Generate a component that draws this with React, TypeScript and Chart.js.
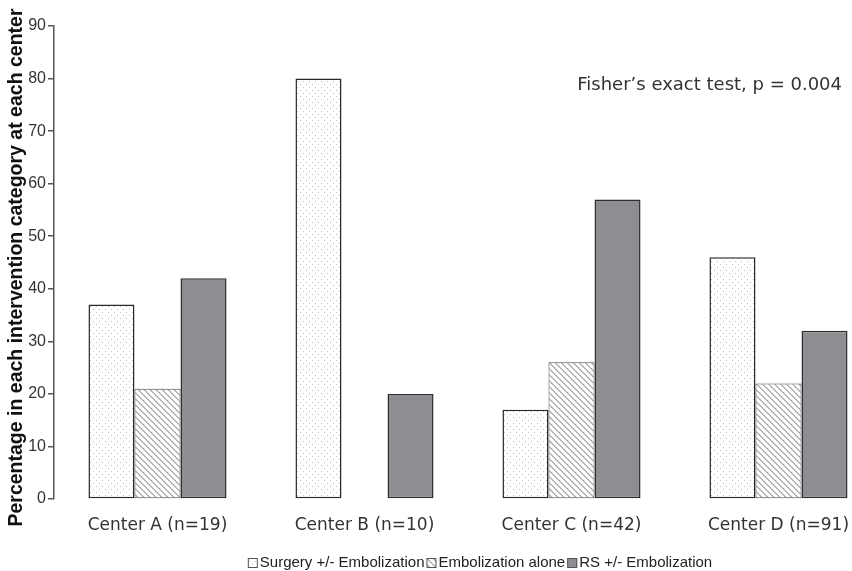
import { useEffect, useRef } from "react";
import { Chart, registerables } from "chart.js";

Chart.register(...registerables);

const categories = ["Center A (n=19)", "Center B (n=10)", "Center C (n=42)", "Center D (n=91)"];
const seriesLabels = ["Surgery +/- Embolization", "Embolization alone", "RS +/- Embolization"];
const surgeryValues = [37, 80, 17, 46];
const embolizationValues = [21, 0, 26, 22];
const rsValues = [42, 20, 57, 32];
const yMin = 0;
const yMax = 90;
const yStep = 10;
const yTitle = "Percentage in each intervention category at each center";
const annotationText = "Fisher\u2019s exact test, p = 0.004";

function makePattern(kind: "dots" | "hatch"): CanvasPattern | string {
  const size = 6;
  const c = document.createElement("canvas");
  c.width = size;
  c.height = size;
  const g = c.getContext("2d");
  if (!g) return "#ffffff";
  g.fillStyle = "#ffffff";
  g.fillRect(0, 0, size, size);
  if (kind === "dots") {
    g.fillStyle = "#bdbdbd";
    g.fillRect(0, 0, 1, 1);
    g.fillRect(3, 3, 1, 1);
  } else {
    g.fillStyle = "#b4b4b4";
    for (let y = 0; y < size; y++) {
      for (let x = 0; x < size; x++) {
        if ((x - y + size) % size < 2) g.fillRect(x, y, 1, 1);
      }
    }
  }
  const p = g.createPattern(c, "repeat");
  return p || "#ffffff";
}

const decorPlugin = {
  id: "decor",
  afterDraw(chart: any) {
    const ctx: CanvasRenderingContext2D = chart.ctx;
    const area = chart.chartArea;
    ctx.save();
    // y axis title
    ctx.fillStyle = "#111111";
    ctx.font = "bold 19.5px 'Liberation Sans', Arial, sans-serif";
    ctx.textAlign = "center";
    ctx.textBaseline = "middle";
    ctx.translate(17, (area.top + area.bottom) / 2 + 5);
    ctx.rotate(-Math.PI / 2);
    ctx.fillText(yTitle, 0, 0);
    ctx.restore();

    // annotation
    ctx.save();
    ctx.fillStyle = "#333333";
    ctx.font = "18px 'DejaVu Sans', sans-serif";
    ctx.textAlign = "right";
    ctx.textBaseline = "middle";
    ctx.fillText(annotationText, 842, area.top + 59);
    ctx.restore();

    // legend
    ctx.save();
    ctx.font = "15px 'Liberation Sans', Arial, sans-serif";
    ctx.textBaseline = "middle";
    ctx.textAlign = "left";
    const boxW = 10;
    const gapBox = 2;
    const gapItem = 2;
    const items = chart.data.datasets.map((ds: any) => ({
      label: ds.label as string,
      fill: ds.backgroundColor,
      border: ds.legendBorder as string,
      w: ctx.measureText(ds.label).width,
    }));
    let total = 0;
    items.forEach((it: any, i: number) => {
      total += boxW + gapBox + it.w + (i < items.length - 1 ? gapItem : 0);
    });
    const cy = 563;
    let x = 480 - total / 2;
    items.forEach((it: any) => {
      ctx.fillStyle = it.fill;
      ctx.fillRect(x, cy - 5, boxW, boxW);
      ctx.strokeStyle = it.border;
      ctx.lineWidth = 1;
      ctx.strokeRect(x + 0.5, cy - 4.5, boxW - 1, boxW - 1);
      x += boxW + gapBox;
      ctx.fillStyle = "#222222";
      ctx.fillText(it.label, x, cy);
      x += it.w + gapItem;
    });
    ctx.restore();
  },
};

export default function App() {
  const ref = useRef<HTMLCanvasElement | null>(null);

  useEffect(() => {
    document.body.style.margin = "0";
    const canvas = ref.current;
    if (!canvas) return;
    const dots = makePattern("dots");
    const hatch = makePattern("hatch");
    const zeroAware = (w: number) => (c: any) => (c.raw === 0 ? 0 : w);
    const chart = new Chart(canvas, {
      type: "bar",
      data: {
        labels: categories,
        datasets: [
          {
            label: seriesLabels[0],
            data: surgeryValues,
            backgroundColor: dots as any,
            borderColor: "#2a2a2a",
            borderWidth: zeroAware(1.5) as any,
            borderSkipped: false,
            legendBorder: "#555555",
          } as any,
          {
            label: seriesLabels[1],
            data: embolizationValues,
            backgroundColor: hatch as any,
            borderColor: "#4a4a4a",
            borderWidth: zeroAware(1) as any,
            borderSkipped: false,
            legendBorder: "#555555",
          } as any,
          {
            label: seriesLabels[2],
            data: rsValues,
            backgroundColor: "#8e8e92",
            borderColor: "#2e2e2e",
            borderWidth: zeroAware(1.5) as any,
            borderSkipped: false,
            legendBorder: "#555555",
          } as any,
        ],
      },
      options: {
        responsive: false,
        animation: false,
        devicePixelRatio: 1,
        layout: { padding: { top: 26, right: 0, left: 0, bottom: 0 } },
        datasets: {
          bar: { categoryPercentage: 0.667, barPercentage: 1.0 },
        },
        plugins: {
          legend: { display: false },
          tooltip: { enabled: false },
          title: { display: false },
        },
        scales: {
          x: {
            grid: { display: false, drawTicks: false },
            border: { display: false },
            ticks: {
              color: "#333333",
              font: { family: "'DejaVu Sans', sans-serif", size: 17 },
              padding: 16,
              maxRotation: 0,
              autoSkip: false,
            },
            afterFit: (s: any) => {
              s.height = 72;
            },
          },
          y: {
            min: yMin,
            max: yMax,
            ticks: {
              stepSize: yStep,
              color: "#333333",
              font: { family: "'Liberation Sans', Arial, sans-serif", size: 16 },
              padding: 2,
            },
            grid: {
              display: true,
              drawOnChartArea: false,
              drawTicks: true,
              tickLength: 6,
              color: "#555555",
              lineWidth: 1.5,
            },
            border: { display: true, color: "#555555", width: 1.5 },
            afterFit: (s: any) => {
              s.width = 54;
            },
          },
        },
      },
      plugins: [decorPlugin],
    });
    return () => chart.destroy();
  }, []);

  return (
    <div style={{ position: "absolute", left: 0, top: 0, width: 852, height: 571, overflow: "hidden", background: "#ffffff" }}>
      <canvas ref={ref} width={882} height={571} style={{ display: "block", width: 882, height: 571 }} />
    </div>
  );
}
